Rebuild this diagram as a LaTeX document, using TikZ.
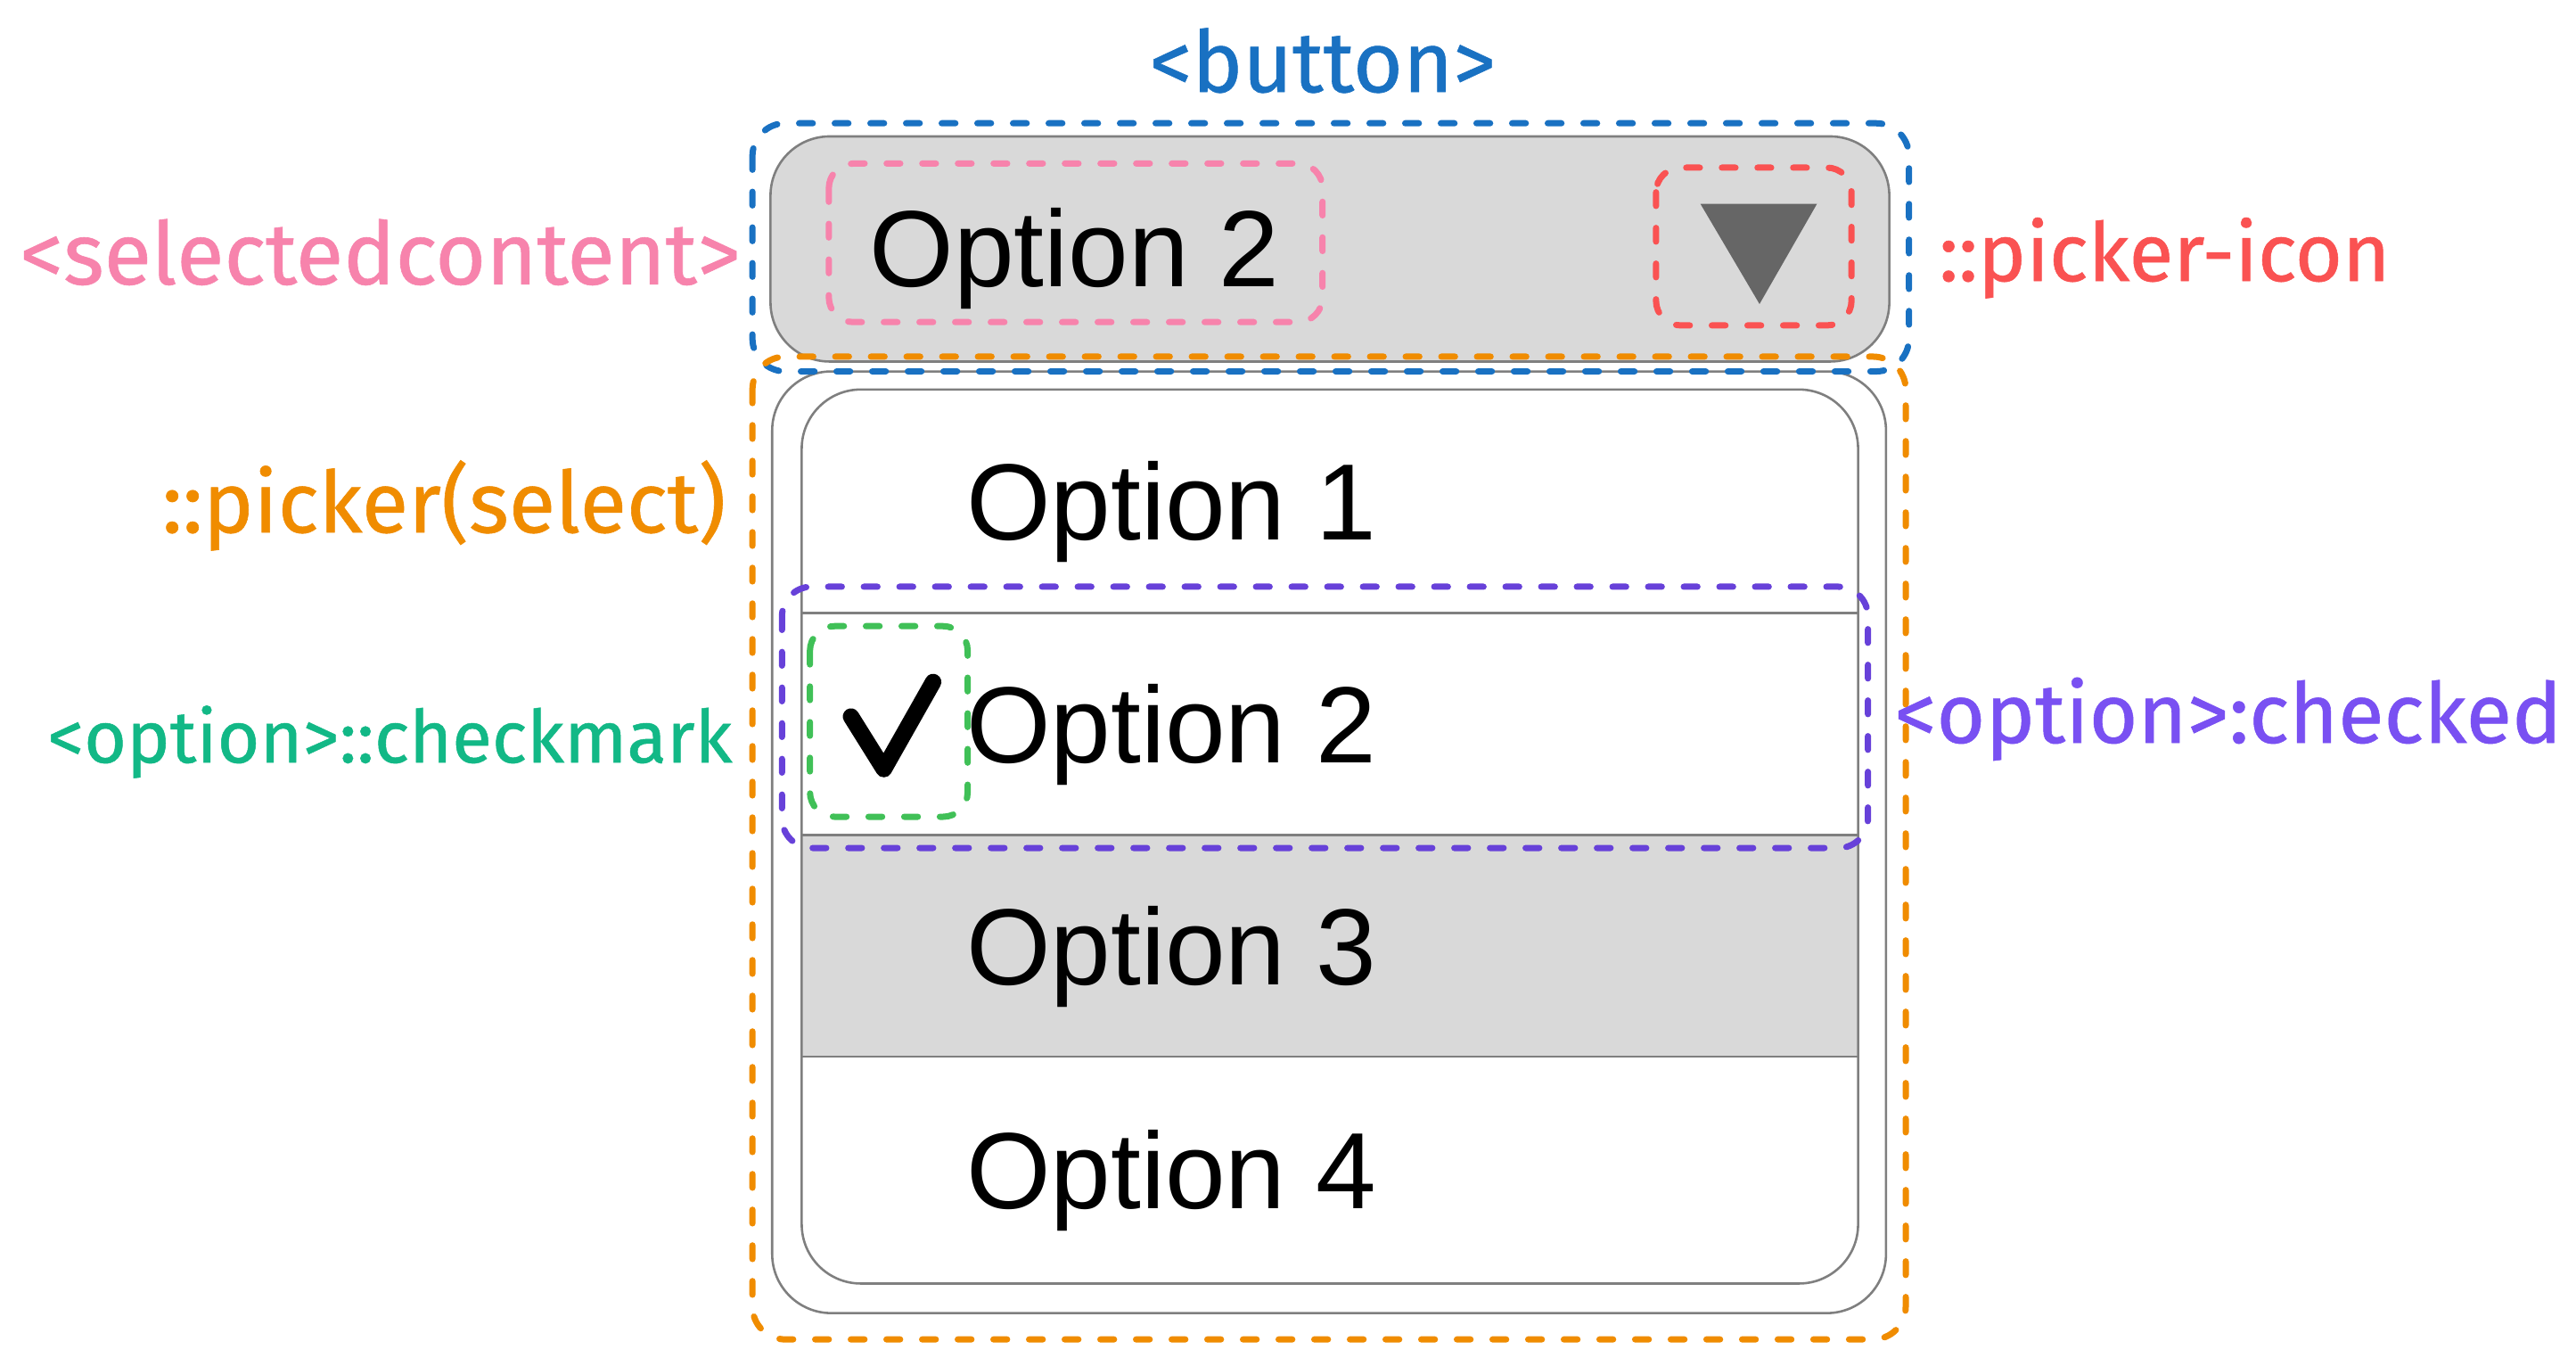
\documentclass[tikz,border=0pt]{standalone}
\usepackage{fontspec}
\setmainfont{Liberation Sans}
\newfontfamily\labfont[FakeBold=0.6]{Fira Sans}
\definecolor{cblue}{HTML}{1971C2}
\definecolor{cpink}{HTML}{F783AC}
\definecolor{cred}{HTML}{FA5252}
\definecolor{corange}{HTML}{F08C00}
\definecolor{cgreen}{HTML}{40C057}
\definecolor{cteal}{HTML}{12B886}
\definecolor{cviolet}{HTML}{6741D9}
\definecolor{cviolettext}{HTML}{7950F2}
\definecolor{uifill}{HTML}{D9D9D9}
\definecolor{uigray}{HTML}{7F7F7F}
\definecolor{icongray}{HTML}{666666}
\begin{document}
\begin{tikzpicture}[x=1pt,y=-1pt,
  dbox/.style={line width=3.8pt, dash pattern=on 8.3pt off 13.4pt, line cap=round},
  uibox/.style={draw=uigray, line width=1.4pt},
  opt/.style={font=\fontsize{66}{70}\selectfont, anchor=base west, inner sep=0pt},
  lab/.style={font=\labfont\fontsize{52}{56}\selectfont, inner sep=0pt}]
\useasboundingbox[fill=white] (0,0) rectangle (1568,826);

% picker (dropdown) outer and inner boxes
\draw[uibox, fill=white, rounded corners=36pt] (470,226) rectangle (1148,799);
\fill[uifill] (488,508) rectangle (1131,643);
\draw[uibox, rounded corners=36pt] (488,237) rectangle (1131,781);
\draw[uibox] (488,373) -- (1131,373);
\draw[uibox] (488,508) -- (1131,508);
\draw[uibox] (488,643) -- (1131,643);

% button
\draw[uibox, fill=uifill, rounded corners=36pt] (469,83) rectangle (1150,220);
\fill[icongray] (1035,124) -- (1106,124) -- (1071,185) -- cycle;

% texts inside the UI
\node[opt] (sel) at (529,174.5) {Option 2};
\node[opt] (o1) at (588,328.5) {Option 1};
\node[opt] (o2) at (588,464) {Option 2};
\node[opt] (o3) at (588,599.5) {Option 3};
\node[opt] (o4) at (588,735.5) {Option 4};

% checkmark
\draw[line width=10pt, line cap=round, line join=round] (518,436) -- (538,468) -- (568,415);

% dashed annotation boxes
\draw[dbox, cblue, rounded corners=20pt] (458,75) rectangle (1162,226);
\draw[dbox, corange, rounded corners=20pt] (458,217) rectangle (1160,815);
\draw[dbox, cpink, rounded corners=15pt] (504.5,99.5) rectangle (805,196);
\draw[dbox, cred, rounded corners=15pt] (1008,102) rectangle (1127,198);
\draw[dbox, cviolet, rounded corners=18pt] (476,357) rectangle (1137,516);
\draw[dbox, cgreen, rounded corners=15pt] (493,381) rectangle (589,497);

% labels
\node[lab, text=cblue, anchor=base] (lbutton) at (805,56) {<button>};
\node[lab, text=cpink, font=\labfont\fontsize{53}{56}\selectfont, anchor=base east] (lsel) at (451,173) {<selectedcontent>};
\node[lab, text=cred, font=\labfont\fontsize{49.5}{54}\selectfont, anchor=base west] (licon) at (1180,171) {::picker-icon};
\node[lab, text=corange, anchor=base east] (lpicker) at (442,324) {::picker(select)};
\node[lab, text=cteal, font=\labfont\fontsize{44.5}{50}\selectfont, anchor=base east] (lcheck) at (446,464) {<option>::checkmark};
\node[lab, text=cviolettext, font=\labfont\fontsize{51}{54}\selectfont, anchor=base west] (lchecked) at (1153,452) {<option>:checked};
\end{tikzpicture}
\end{document}
